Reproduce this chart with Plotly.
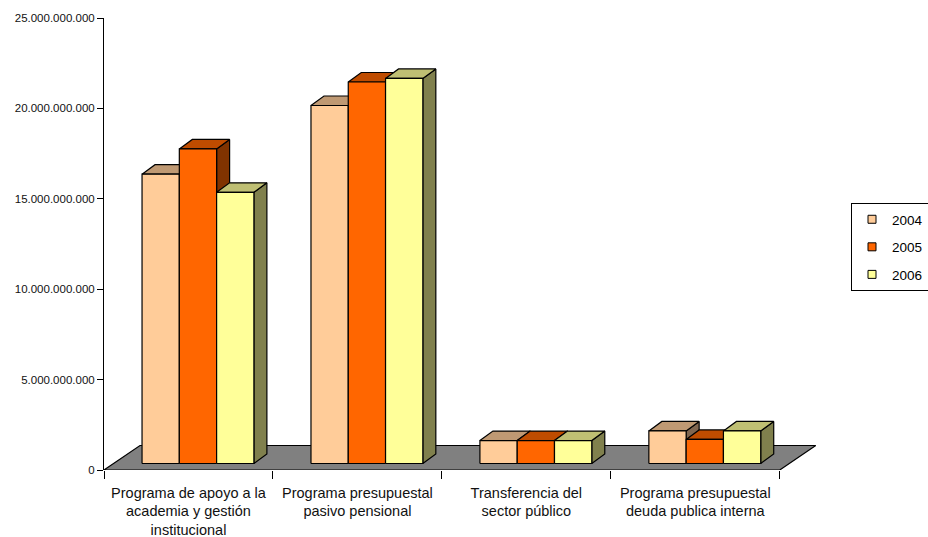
import plotly.graph_objects as go

# ---- data ----
categories = [
    "Programa de apoyo a la<br>academia y gestión<br>institucional",
    "Programa presupuestal<br>pasivo pensional",
    "Transferencia del<br>sector público",
    "Programa presupuestal<br>deuda publica interna",
]
series_names = ["2004", "2005", "2006"]
values_2004 = [16.0e9, 19.8e9, 1.27e9, 1.80e9]
values_2005 = [17.4e9, 21.1e9, 1.27e9, 1.33e9]
values_2006 = [15.0e9, 21.3e9, 1.27e9, 1.80e9]
y_ticks = [0, 5e9, 10e9, 15e9, 20e9, 25e9]

series_values = [values_2004, values_2005, values_2006]
front_colors = ["#FFCC99", "#FF6600", "#FFFF99"]
top_colors = ["#BF9973", "#BF4C00", "#BFBF73"]
side_colors = ["#806650", "#803300", "#80804D"]

# ---- geometry (pixel-based pseudo-3D offsets converted to data units) ----
W_PX, H_PX = 928, 537
L, T, B = 104, 18, 67
PX_PER_CAT = 169.0
X_MAX = 4.25
plot_w = PX_PER_CAT * X_MAX
R = W_PX - L - plot_w
YMAX = 25e9
plot_h = H_PX - T - B
ux = 1.0 / PX_PER_CAT          # x units per px
uy = YMAX / plot_h             # y units per px

FLOOR_DX, FLOOR_DY = 36 * ux, 24.5 * uy
FRONT_DX, FRONT_DY = 9.5 * ux, 6.5 * uy
BAR_DX, BAR_DY = 13 * ux, 9.5 * uy
BAR_W = 37.3 * ux
GROUP_W = BAR_W * len(series_names)
GAP_HALF = (1 - GROUP_W) / 2

fig = go.Figure()

def poly(xs, ys, color):
    fig.add_trace(go.Scatter(
        x=list(xs) + [xs[0]], y=list(ys) + [ys[0]],
        mode="lines", fill="toself", fillcolor=color,
        line=dict(color="black", width=1.2),
        hoverinfo="skip", showlegend=False))

n = len(categories)
# floor
poly([0, n, n + FLOOR_DX, FLOOR_DX], [0, 0, FLOOR_DY, FLOOR_DY], "#808080")

# bars
for i in range(n):
    for j, vals in enumerate(series_values):
        v = vals[i]
        x0 = i + GAP_HALF + FRONT_DX + j * BAR_W
        x1 = x0 + BAR_W
        yb = FRONT_DY
        yt = FRONT_DY + v
        poly([x1, x1 + BAR_DX, x1 + BAR_DX, x1], [yb, yb + BAR_DY, yt + BAR_DY, yt], side_colors[j])
        poly([x0, x1, x1 + BAR_DX, x0 + BAR_DX], [yt, yt, yt + BAR_DY, yt + BAR_DY], top_colors[j])
        poly([x0, x1, x1, x0], [yb, yb, yt, yt], front_colors[j])

# legend entries
for j, name in enumerate(series_names):
    fig.add_trace(go.Scatter(
        x=[None], y=[None], mode="markers", name=name, legendgroup=name,
        marker=dict(symbol="square", size=8, color=front_colors[j],
                    line=dict(color="black", width=1))))

fig.update_layout(
    width=W_PX, height=H_PX,
    margin=dict(l=L, r=R, t=T, b=B, pad=0, autoexpand=False),
    paper_bgcolor="white", plot_bgcolor="white",
    separators=",.",
    font=dict(family="Liberation Sans, Arial, sans-serif", color="black"),
    showlegend=True,
    legend=dict(
        xref="container", yref="container",
        x=851 / W_PX, y=1 - 203 / H_PX, xanchor="left", yanchor="top",
        bordercolor="black", borderwidth=1, bgcolor="white",
        font=dict(size=13.5), tracegroupgap=7, itemwidth=30),
    xaxis=dict(
        range=[0, X_MAX], showgrid=False, zeroline=False, showline=False,
        tickmode="array", tickvals=[i + 0.5 for i in range(n)], ticktext=categories,
        ticks="", tickfont=dict(size=14.5, color="#111"), tickangle=0,
        ticklabelstandoff=12, automargin=False,
        minor=dict(tickmode="array", tickvals=list(range(n + 1)), ticks="outside",
                   ticklen=8, tickcolor="black", tickwidth=1, showgrid=False),
        fixedrange=True),
    yaxis=dict(
        range=[0, YMAX], showgrid=False, zeroline=False, automargin=False,
        showline=True, linecolor="black", linewidth=1,
        tickmode="array", tickvals=y_ticks, tickformat=",.0f",
        ticks="outside", ticklen=6, tickcolor="black",
        tickfont=dict(size=11.5, color="#111"), fixedrange=True),
)

fig.write_html("out.html")
